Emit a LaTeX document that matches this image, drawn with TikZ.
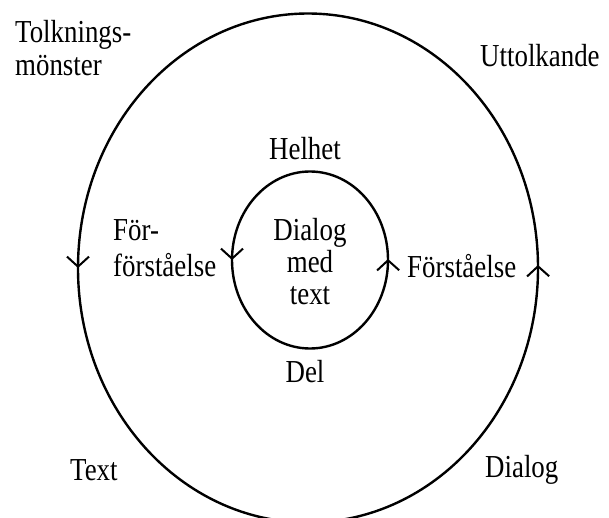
\documentclass[tikz,border=0pt]{standalone}
\usepackage{fontspec}
\setmainfont[FakeStretch=0.84]{Liberation Serif}
\usetikzlibrary{arrows.meta,decorations.markings}
\tikzset{
  lbl/.style={inner sep=0pt, font=\fontsize{32}{33}\selectfont},
  ring/.style={line width=2.4pt, postaction={decorate},
    decoration={markings,
      mark=at position 0.002 with {\arrow{Straight Barb[length=10pt,width=22pt,line width=2pt]}},
      mark=at position 0.5 with {\arrow{Straight Barb[length=10pt,width=22pt,line width=2pt]}}}}
}
\begin{document}
\begin{tikzpicture}[x=1pt,y=1pt]
\useasboundingbox (0,0) rectangle (609,517);
\clip (0,0) rectangle (609,517);
% outer and inner ellipses
\coordinate (oc) at (308,249);
\coordinate (ic) at (310,257);
\draw[ring] (oc) ellipse [x radius=230, y radius=254.5];
\draw[ring] (ic) ellipse [x radius=78, y radius=88.5];
% labels
\node[lbl, anchor=north west, align=left] (tolk) at (15,497) {Tolknings-\\mönster};
\node[lbl, anchor=base west] (utt) at (480,450) {Uttolkande};
\node[lbl, anchor=base] (helhet) at (305,357) {Helhet};
\node[lbl, anchor=north, align=center, font=\fontsize{32}{32}\selectfont] (dmt) at (310,299) {Dialog\\med\\text};
\node[lbl, anchor=north west, align=left, font=\fontsize{32}{36}\selectfont] (forf) at (113,298) {För-\\förståelse};
\node[lbl, anchor=base west] (forst) at (407,240) {Förståelse};
\node[lbl, anchor=base] (del) at (305,135) {Del};
\node[lbl, anchor=base west] (text) at (70,37) {Text};
\node[lbl, anchor=base west] (dialog) at (485,40) {Dialog};
\end{tikzpicture}
\end{document}
